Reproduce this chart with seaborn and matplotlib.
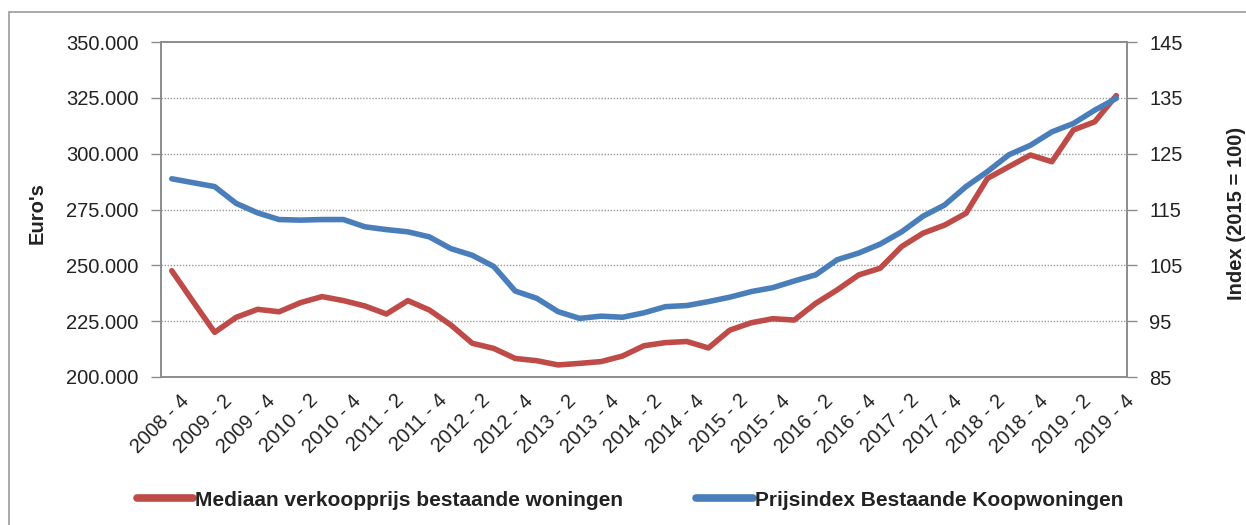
import numpy as np
import pandas as pd
import matplotlib
matplotlib.use("Agg")
import matplotlib.pyplot as plt
import matplotlib.transforms as mtransforms
import seaborn as sns
from matplotlib.ticker import FuncFormatter, FixedLocator
from matplotlib.lines import Line2D
from matplotlib.patches import Rectangle

# ---------------- data ----------------
quarters = [f"{y} - {q}" for y in range(2008, 2020) for q in range(1, 5)][3:]  # 2008-4 .. 2019-4

mediaan_prijs = [247600, 233700, 220000, 226700, 230300, 229200, 233300, 236000, 234200, 231800,
                 228200, 234200, 230000, 223300, 215100, 212800, 208300, 207300, 205400, 206100,
                 206900, 209400, 214000, 215400, 215900, 213000, 221000, 224300, 226100, 225500,
                 233000, 239000, 245700, 248700, 258400, 264400, 268000, 273300, 288900, 294200,
                 299400, 296400, 310600, 314300, 326000]

prijsindex = [120.5, 119.8, 119.1, 116.1, 114.4, 113.2, 113.1, 113.2, 113.2, 111.9,
              111.4, 111.0, 110.1, 108.0, 106.8, 104.8, 100.4, 99.1, 96.7, 95.5,
              95.9, 95.7, 96.5, 97.6, 97.8, 98.5, 99.3, 100.3, 101.0, 102.2,
              103.3, 106.0, 107.2, 108.8, 111.0, 113.8, 115.8, 119.1, 121.8, 124.8,
              126.5, 128.9, 130.4, 132.8, 134.9]

left_ticks = [200000, 225000, 250000, 275000, 300000, 325000, 350000]
right_ticks = [85, 95, 105, 115, 125, 135, 145]

label_red = "Mediaan verkoopprijs bestaande woningen"
label_blue = "Prijsindex Bestaande Koopwoningen"

df = pd.DataFrame({"kwartaal": quarters, "prijs": mediaan_prijs, "index": prijsindex})

# ---------------- style ----------------
sns.set_style("white")
plt.rcParams["font.family"] = ["Liberation Sans", "DejaVu Sans"]

RED = "#BE4B48"
BLUE = "#4A7EBB"
GRAY = "#8C8C8C"
TXT = "#222222"
FS = 14.5

W, H = 1246, 525
fig = plt.figure(figsize=(W / 100, H / 100), dpi=100)
fig.patch.set_facecolor("white")

# chart-area frame (Excel style)
fig.patches.append(Rectangle((9 / W, -0.1), 1.2, (H - 12) / H + 0.1, transform=fig.transFigure,
                             fill=False, edgecolor="#9A9A9A", linewidth=1.2))

ax = fig.add_axes([161 / W, 1 - 377 / H, (1127 - 161) / W, (377 - 42) / H])
ax2 = ax.twinx()

xpos = np.arange(len(quarters))
sns.lineplot(x=xpos, y=df["prijs"], ax=ax, color=RED, linewidth=4.0, legend=False)
sns.lineplot(x=xpos, y=df["index"], ax=ax2, color=BLUE, linewidth=4.0, legend=False)
for a in (ax, ax2):
    for ln in a.get_lines():
        ln.set_solid_joinstyle("round")
        ln.set_solid_capstyle("round")
ax2.patch.set_visible(False)

ax.set_xlim(-0.5, len(quarters) - 0.5)
ax.set_ylim(200000, 350000)
ax2.set_ylim(85, 145)

ax.yaxis.set_major_locator(FixedLocator(left_ticks))
ax2.yaxis.set_major_locator(FixedLocator(right_ticks))
ax.yaxis.set_major_formatter(FuncFormatter(lambda v, p: f"{int(v):,}".replace(",", ".")))
ax2.yaxis.set_major_formatter(FuncFormatter(lambda v, p: f"{int(v)}"))

# dotted gridlines between the axis limits
for v in left_ticks[1:-1]:
    ax.axhline(v, color="#9A9A9A", linestyle=(0, (1, 1.2)), linewidth=1.0, zorder=0)
ax.grid(False)
ax2.grid(False)

# x ticks: labels every 2 quarters, tick marks at category boundaries
ax.set_xticks(xpos[::2])
ax.set_xticklabels(quarters[::2], rotation=45, ha="right", rotation_mode="anchor")
ax.set_xticks(np.arange(-0.5, len(quarters), 1.0), minor=True)
ax.tick_params(axis="x", which="major", length=0, pad=10, labelsize=FS, labelcolor=TXT)
ax.tick_params(axis="x", which="minor", length=6, width=1, color=GRAY, direction="out")
ax2.tick_params(axis="x", which="both", length=0)
offset = mtransforms.ScaledTranslation(8 / 100, 0, fig.dpi_scale_trans)
for lbl in ax.get_xticklabels():
    lbl.set_transform(lbl.get_transform() + offset)

ax.tick_params(axis="y", length=7, width=1, color=GRAY, direction="out", pad=9, labelsize=FS, labelcolor=TXT, left=True)
ax2.tick_params(axis="y", length=7, width=1, color=GRAY, direction="out", pad=9, labelsize=FS, labelcolor=TXT, right=True)

for a in (ax, ax2):
    for s in a.spines.values():
        s.set_color(GRAY)
        s.set_linewidth(1.2)
        s.set_visible(True)

ax.set_ylabel("Euro's", fontsize=14.5, fontweight="bold", color=TXT)
ax.yaxis.label.set_va("center")
ax.yaxis.label.set_ha("center")
ax.yaxis.set_label_coords((37 - 161) / (1127 - 161), 1 - (213 - 42) / (377 - 42))
ax2.set_ylabel("Index (2015 = 100)", fontsize=14.5, fontweight="bold", color=TXT, rotation=90)
ax2.yaxis.label.set_va("center")
ax2.yaxis.label.set_ha("center")
ax2.yaxis.set_label_coords((1237 - 161) / (1127 - 161), 1 - (213 - 42) / (377 - 42))
ax.set_xlabel("")

handles = [Line2D([0], [0], color=RED, linewidth=5.5, solid_capstyle="round"),
           Line2D([0], [0], color=BLUE, linewidth=5.5, solid_capstyle="round")]
fig.legend(handles, [label_red, label_blue], loc="center", bbox_to_anchor=(630 / W, 25 / H),
           ncol=2, frameon=False, handlelength=2.7, handletextpad=0.1, columnspacing=3.5,
           prop={"family": ["Liberation Sans", "DejaVu Sans"], "size": 15, "weight": "bold"},
           labelcolor=TXT)

fig.savefig("out.png", dpi=100)
